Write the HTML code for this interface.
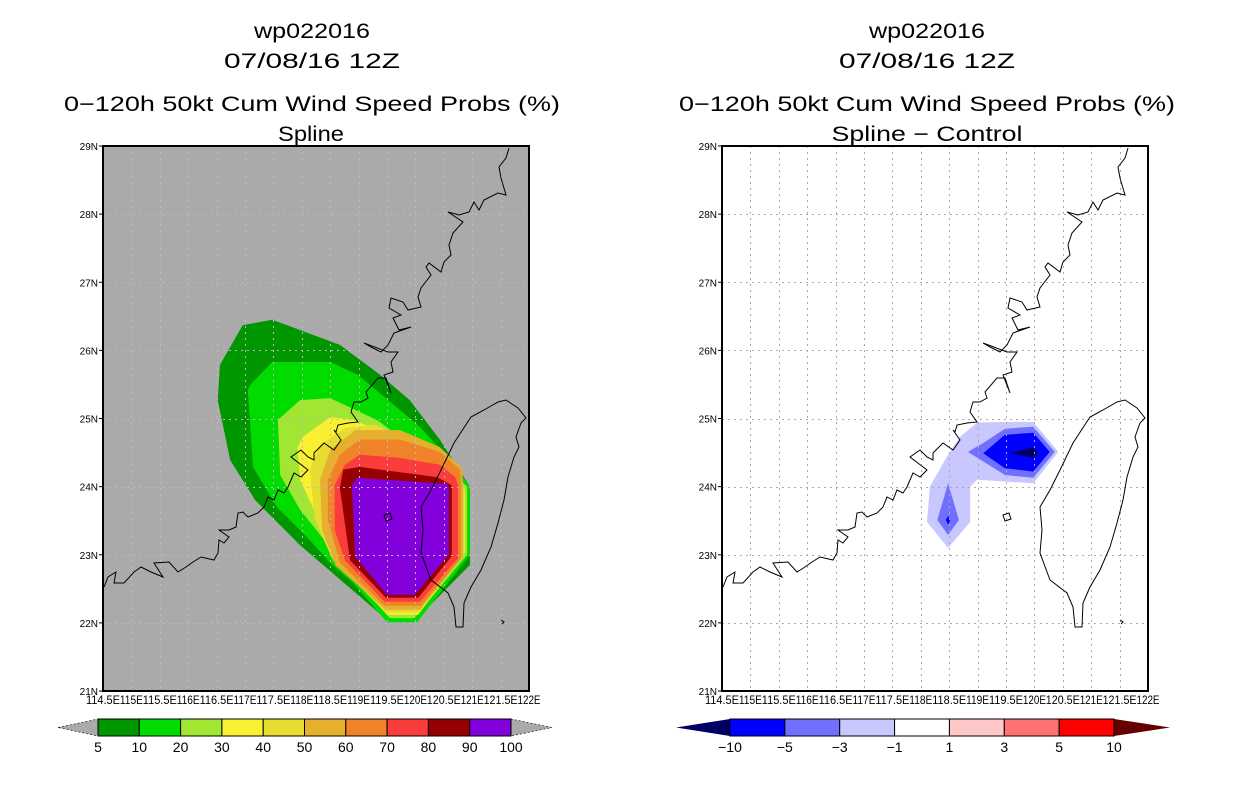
<!DOCTYPE html>
<html><head><meta charset="utf-8">
<style>
html,body{margin:0;padding:0;background:#fff;}
svg{display:block;font-family:"Liberation Sans",sans-serif;}
</style></head>
<body>
<svg id="chart" width="1236" height="800" viewBox="0 0 1236 800" xmlns="http://www.w3.org/2000/svg">
<g text-anchor="middle" fill="#000">
<text x="312" y="38" font-size="21" textLength="116" lengthAdjust="spacingAndGlyphs">wp022016</text>
<text x="312" y="68" font-size="21" textLength="176" lengthAdjust="spacingAndGlyphs">07/08/16 12Z</text>
<text x="312" y="111" font-size="21" textLength="496" lengthAdjust="spacingAndGlyphs">0−120h 50kt Cum Wind Speed Probs (%)</text>
<text x="311" y="141" font-size="21" textLength="66" lengthAdjust="spacingAndGlyphs">Spline</text>
</g>
<g text-anchor="middle" fill="#000">
<text x="927" y="38" font-size="21" textLength="116" lengthAdjust="spacingAndGlyphs">wp022016</text>
<text x="927" y="68" font-size="21" textLength="176" lengthAdjust="spacingAndGlyphs">07/08/16 12Z</text>
<text x="927" y="111" font-size="21" textLength="496" lengthAdjust="spacingAndGlyphs">0−120h 50kt Cum Wind Speed Probs (%)</text>
<text x="927" y="141" font-size="21" textLength="191" lengthAdjust="spacingAndGlyphs">Spline − Control</text>
</g>
<g id="left-map"></g>
<g id="right-map"></g>
<g id="left-cbar"></g>
<g id="right-cbar"></g>
</svg>
<script>
// ---- data ----
const lonTicks = [114.5,115,115.5,116,116.5,117,117.5,118,118.5,119,119.5,120,120.5,121,121.5,122];
const latTicks = [21,22,23,24,25,26,27,28,29];
const probLevels = [5,10,20,30,40,50,60,70,80,90,100];
const probColors = ["#009600","#00dc00","#a0e632","#faf032","#e6dc32","#e6af2d","#f08228","#fa3c3c","#960000","#8200dc"];
const diffLevels = [-10,-5,-3,-1,1,3,5,10];
const diffColors = ["#0000ff","#7070ff","#c8c8ff","#ffffff","#ffc8c8","#ff7070","#ff0000"];
const prob5  = [[116.96,26.37],[117.48,26.45],[118.67,26.08],[119.38,25.64],[119.90,25.27],[120.43,24.69],[120.96,24.0],[120.96,22.85],[119.99,22.03],[119.52,22.03],[117.97,23.14],[117.18,23.80],[116.74,24.39],[116.52,25.27],[116.56,25.79]];
const prob10 = [[117.12,25.52],[117.48,25.83],[118.50,25.83],[118.99,25.64],[120.08,24.88],[120.56,24.44],[120.96,24.0],[120.96,23.0],[120.03,22.01],[119.50,22.01],[118.90,22.59],[118.50,22.88],[118.09,23.26],[117.56,23.70],[117.14,24.29],[117.05,25.42]];
const prob20 = [[117.58,24.98],[117.97,25.27],[118.50,25.30],[119.32,24.98],[119.85,24.66],[120.31,24.49],[120.91,24.0],[120.91,23.0],[119.98,22.07],[119.55,22.07],[118.90,22.67],[118.44,23.17],[117.97,23.66],[117.62,24.17]];
const prob30 = [[117.92,24.57],[118.02,24.73],[118.50,25.02],[118.90,24.98],[119.20,24.88],[119.73,24.64],[120.31,24.39],[120.66,24.20],[120.87,23.95],[120.87,23.03],[120.05,22.12],[119.50,22.12],[119.02,22.59],[118.55,23.07],[118.27,23.56],[117.97,24.10]];
const prob40 = [[118.14,24.25],[118.32,24.61],[118.76,24.86],[119.29,24.91],[120.08,24.61],[120.75,24.29],[120.86,23.98],[120.86,23.01],[120.06,22.15],[119.48,22.15],[118.55,22.92],[118.23,23.51]];
const prob50 = [[118.32,24.10],[118.50,24.54],[118.94,24.83],[119.73,24.83],[120.43,24.58],[120.82,24.27],[120.84,24.00],[120.84,22.98],[120.08,22.19],[119.48,22.19],[118.60,22.84],[118.36,23.36]];
const prob60 = [[118.46,24.10],[118.67,24.47],[119.02,24.69],[119.73,24.69],[120.43,24.51],[120.79,24.25],[120.80,24.02],[120.80,22.95],[120.10,22.25],[119.46,22.25],[118.67,22.88],[118.46,23.51]];
const prob70 = [[118.58,24.02],[118.76,24.32],[119.02,24.47],[119.73,24.42],[120.43,24.32],[120.70,24.14],[120.75,24.02],[120.75,22.95],[120.08,22.31],[119.46,22.31],[118.76,22.92],[118.58,23.36]];
const prob80 = [[118.73,24.25],[119.02,24.29],[120.38,24.14],[120.64,24.02],[120.64,22.98],[120.05,22.37],[119.48,22.37],[118.85,22.92],[118.67,23.98]];
const prob90 = [[118.97,24.13],[120.56,24.04],[120.59,23.98],[120.59,23.00],[119.99,22.41],[119.50,22.41],[118.94,22.97],[118.88,24.02]];
const probRegions = [prob5,prob10,prob20,prob30,prob40,prob50,prob60,prob70,prob80,prob90];
const diffLight = [[118.99,24.94],[119.48,24.95],[119.98,24.95],[120.42,24.51],[119.98,24.05],[118.99,24.10],[118.87,24.00],[118.87,23.48],[118.48,23.10],[118.11,23.48],[118.16,24.00],[118.46,24.44],[118.69,24.73]];
const diffMedEast = [[119.48,24.85],[119.98,24.88],[120.36,24.51],[119.98,24.13],[119.48,24.17],[118.83,24.51],[119.10,24.64]];
const diffMedWest = [[118.48,24.05],[118.67,23.51],[118.48,23.29],[118.29,23.51]];
const diffBlueEast = [[119.48,24.76],[119.98,24.79],[120.27,24.51],[119.98,24.22],[119.48,24.27],[119.10,24.49]];
const diffBlueWest = [[118.48,23.57],[118.52,23.51],[118.48,23.44],[118.44,23.51]];
const diffDark = [[119.57,24.49],[119.98,24.58],[120.06,24.49],[119.98,24.42]];
const diffRegions = [[diffLight,"#c8c8ff"],[diffMedEast,"#7070ff"],[diffMedWest,"#7070ff"],[diffBlueEast,"#0000ff"],[diffBlueWest,"#0000ff"],[diffDark,"#000064"]];
// basemap coastline, pixel offsets inside plot frame
const coastMain = [[406,2],[403,12],[396,21],[398,32],[403,49],[395,47],[381,54],[376,64],[371,56],[366,66],[356,69],[345,66],[360,76],[350,87],[346,99],[348,109],[341,116],[338,126],[326,117],[323,121],[328,129],[318,142],[315,151],[318,161],[305,164],[300,156],[288,152],[286,162],[298,169],[290,172],[296,184],[308,181],[291,187],[285,199],[278,206],[268,201],[261,197],[285,206],[295,206],[288,216],[290,226],[281,229],[288,247],[283,232],[275,232],[263,246],[265,252],[258,256],[251,256],[248,266],[255,276],[245,277],[235,279],[233,286],[231,284],[238,294],[231,304],[221,297],[211,307],[211,314],[205,311],[198,304],[188,311],[205,324],[198,331],[191,327],[185,341],[181,347],[175,344],[171,354],[165,351],[161,361],[155,367],[145,371],[140,366],[135,367],[133,381],[126,384],[116,384],[126,391],[121,397],[116,394],[115,407],[111,414],[98,411],[90,416],[83,421],[75,426],[66,416],[51,417],[60,431],[48,426],[38,421],[31,426],[21,437],[11,437],[13,426],[5,431],[1,441]];
const coastTaiwan = [[395,256],[403,254],[415,262],[423,272],[418,277],[413,291],[416,301],[411,311],[405,331],[401,354],[395,377],[388,401],[378,424],[368,441],[361,457],[360,481],[353,481],[351,461],[345,447],[328,434],[318,407],[320,384],[318,361],[328,344],[338,324],[351,297],[368,271],[381,264]];
const coastPenghu = [[281,369],[287,367],[289,373],[283,375]];
const coastIsle = [[398,474],[401,476],[399,478]];

const NS="http://www.w3.org/2000/svg";
function mk(tag, attrs, parent){const e=document.createElementNS(NS,tag);for(const k in attrs)e.setAttribute(k,attrs[k]);parent.appendChild(e);return e;}
const P={w:426,h:545,top:146};
function xScale(x0,lon){return x0+(lon-114.5)/7.5*P.w;}
function yScale(lat){return P.top+(29-lat)/8*P.h;}
function polyStr(x0,pts){return pts.map(p=>xScale(x0,p[0]).toFixed(1)+","+yScale(p[1]).toFixed(1)).join(" ");}
function pixStr(x0,pts){return pts.map(p=>(x0+p[0])+","+(P.top+p[1])).join(" ");}

function drawMap(g,x0,bg,regions,gridCol){
  const bgR=mk('rect',{x:x0,y:P.top,width:P.w,height:P.h,fill:bg},g);
  
  
  regions.forEach((r,i)=>{
    const pg=mk('polygon',{points:polyStr(x0,r[0]),fill:r[1]},g);
    
    
  });
  const grid=mk('g',{stroke:gridCol,'stroke-width':1,'stroke-dasharray':'2,4'},g);
  
  
  lonTicks.slice(1,-1).forEach(l=>{const x=Math.round(xScale(x0,l))+0.5;mk('line',{x1:x,x2:x,y1:P.top,y2:P.top+P.h},grid);});
  latTicks.slice(1,-1).forEach(l=>{const y=Math.round(yScale(l))+0.5;mk('line',{x1:x0,x2:x0+P.w,y1:y,y2:y},grid);});
  const coast=mk('g',{fill:'none',stroke:'#000','stroke-width':1},g);
  
  
  mk('polyline',{points:pixStr(x0,coastMain)},coast);
  mk('polygon',{points:pixStr(x0,coastTaiwan)},coast);
  mk('polygon',{points:pixStr(x0,coastPenghu)},coast);
  mk('polyline',{points:pixStr(x0,coastIsle)},coast);
  const fr=mk('rect',{x:x0,y:P.top,width:P.w,height:P.h,fill:'none',stroke:'#000','stroke-width':2},g);
  
  
  const ax=mk('g',{'font-size':10,fill:'#000'},g);
  
  
  latTicks.forEach(l=>{const y=yScale(l);
    mk('line',{x1:x0-4,x2:x0,y1:y,y2:y,stroke:'#000'},ax);
    const t=mk('text',{x:x0-5,y:y+4,'text-anchor':'end'},ax);t.textContent=l+'N';
    
    });
  lonTicks.forEach(l=>{const x=xScale(x0,l);
    const t=mk('text',{x:x,y:704,'text-anchor':'middle','font-size':12,textLength:String(l).length>3?34:23,lengthAdjust:'spacingAndGlyphs'},ax);t.textContent=l+'E';
    
    });
}
const probReg = probRegions.map((r,i)=>[r,probColors[i]]);
drawMap(document.getElementById('left-map'),103,'#aaaaaa',probReg,'#bcbcbc');
drawMap(document.getElementById('right-map'),722,'#ffffff',diffRegions,'#aaaaaa');

function drawBar(g,x0,x1,tipL,tipR,levels,colors,lcol,rcol,dash){
  const y0=719,y1=736,ym=727.5,n=colors.length,w=(x1-x0)/n;
  const tl=mk('polygon',{points:`${tipL},${ym} ${x0},${y0} ${x0},${y1}`,fill:lcol,stroke:dash?'#000':'none','stroke-dasharray':dash?'2,2':'none','stroke-width':0.6},g);
  
  
  const tr=mk('polygon',{points:`${tipR},${ym} ${x1},${y0} ${x1},${y1}`,fill:rcol,stroke:dash?'#000':'none','stroke-dasharray':dash?'2,2':'none','stroke-width':0.6},g);
  
  
  colors.forEach((c,i)=>{const r=mk('rect',{x:x0+i*w,y:y0,width:w,height:y1-y0,fill:c,stroke:'#000','stroke-width':1},g);
    
    });
  levels.forEach((v,i)=>{const t=mk('text',{x:x0+i*w,y:752,'text-anchor':'middle','font-size':14,fill:'#000'},g);
    t.textContent=v<0?'−'+(-v):String(v);
    
    });
}
drawBar(document.getElementById('left-cbar'),98,511,58,552,probLevels,probColors,'#aaaaaa','#aaaaaa',true);
drawBar(document.getElementById('right-cbar'),730,1114,676,1170,diffLevels,diffColors,'#000064','#640000',false);
</script>
</body></html>
